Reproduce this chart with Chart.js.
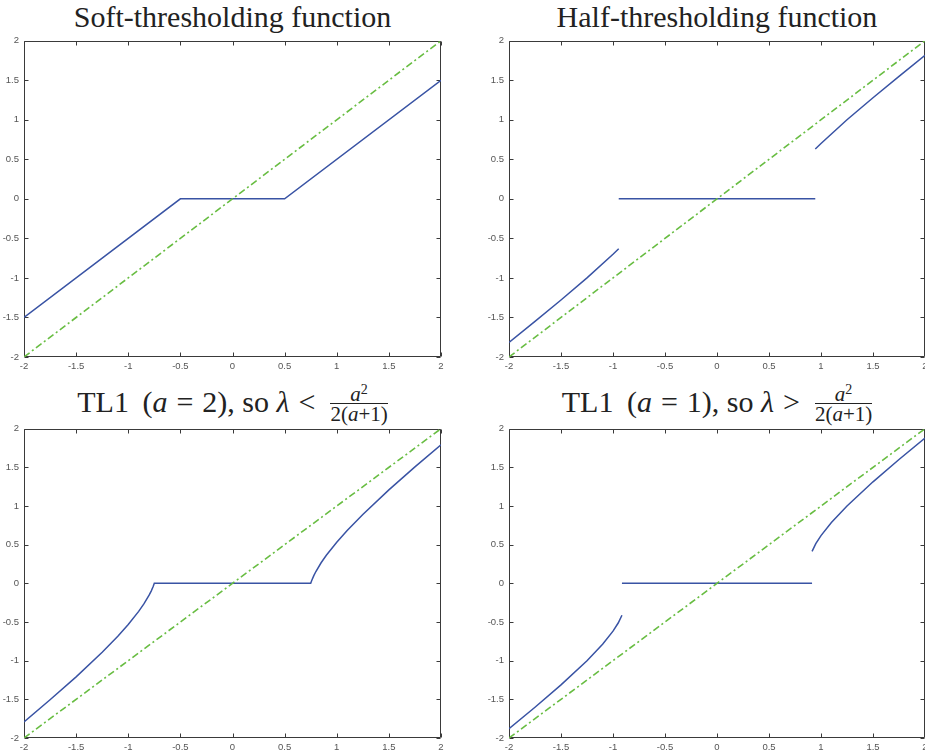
<!DOCTYPE html>
<html>
<head>
<meta charset="utf-8">
<script src="https://cdn.jsdelivr.net/npm/chart.js@4"></script>
<style>
  html, body { margin: 0; padding: 0; background: #fff; }
  body { width: 925px; height: 756px; overflow: hidden; position: relative; }
  canvas { position: absolute; }
  .title {
    position: absolute; text-align: center; color: #222;
    font: 30px 'Liberation Serif', 'DejaVu Serif', serif; line-height: 30px;
    white-space: nowrap;
  }
  .rel { display: inline-block; margin: 0 9px; }
  .frac { display: inline-block; text-align: center; font-size: 21px; vertical-align: -9px; margin-left: 6px; }
  .frac .num { display: block; line-height: 17px; border-bottom: 1px solid #222; padding: 0 2px; }
  .frac .den { display: block; line-height: 20px; }
  .frac sup { font-size: 14px; line-height: 0; vertical-align: 7px; }
</style>
</head>
<body>

<div class="title" style="left:24px; width:417px; top:2px;">Soft-thresholding function</div>
<div class="title" style="left:509px; width:416px; top:2px;">Half-thresholding function</div>
<div class="title" style="left:24px; width:417px; top:386px;">TL1&#8197;&#8201;(<i>a</i><span class="rel">=</span>2), so <i>λ</i><span class="rel">&lt;</span><span class="frac"><span class="num"><i>a</i><sup>2</sup></span><span class="den">2(<i>a</i>+1)</span></span></div>
<div class="title" style="left:509px; width:416px; top:386px;">TL1&#8197;&#8201;(<i>a</i><span class="rel">=</span>1), so <i>λ</i><span class="rel">&gt;</span><span class="frac"><span class="num"><i>a</i><sup>2</sup></span><span class="den">2(<i>a</i>+1)</span></span></div>

<canvas id="softChart" width="460" height="347" style="left:0px; top:30px;"></canvas>
<canvas id="halfChart" width="460" height="347" style="left:485px; top:30px;"></canvas>
<canvas id="tl1aChart" width="460" height="340" style="left:0px; top:418px;"></canvas>
<canvas id="tl1bChart" width="460" height="340" style="left:485px; top:418px;"></canvas>

<script>
// tick values / labels shared by all four axes
var tickValues = [-2, -1.5, -1, -0.5, 0, 0.5, 1, 1.5, 2];
var tickLabels = ['-2', '-1.5', '-1', '-0.5', '0', '0.5', '1', '1.5', '2'];

// identity line y = x (green dash-dot)
var idX = [-2, 2];
var idY = [-2, 2];

// soft thresholding
var softX = [-2, -0.5, 0.5, 2];
var softY = [-1.5, 0, 0, 1.5];

// half thresholding (null = gap)
var halfX = [-2, -1.75, -1.5, -1.25, -1, -0.945, -0.945, -0.945, 0.945, 0.945, 0.945, 1, 1.25, 1.5, 1.75, 2];
var halfY = [-1.815, -1.549, -1.279, -1.0, -0.70, -0.63, null, 0, 0, null, 0.63, 0.70, 1.0, 1.279, 1.549, 1.815];

// TL1, a = 2
var tl1aX = [-2, -1.75, -1.5, -1.25, -1.1, -1, -0.9, -0.85, -0.8, -0.78, -0.76, -0.75, 0.75, 0.76, 0.78, 0.8, 0.85, 0.9, 1, 1.1, 1.25, 1.5, 1.75, 2];
var tl1aY = [-1.792, -1.506, -1.209, -0.891, -0.683, -0.532, -0.363, -0.266, -0.153, -0.100, -0.038, 0, 0, 0.038, 0.100, 0.153, 0.266, 0.363, 0.532, 0.683, 0.891, 1.209, 1.506, 1.792];

// TL1, a = 1
var tl1bX = [-2, -1.75, -1.5, -1.25, -1.1, -1, -0.95, -0.914, -0.914, -0.914, 0.914, 0.914, 0.914, 0.95, 1, 1.1, 1.25, 1.5, 1.75, 2];
var tl1bY = [-1.879, -1.602, -1.313, -1.0, -0.787, -0.618, -0.513, -0.413, null, 0, 0, null, 0.413, 0.513, 0.618, 0.787, 1.0, 1.313, 1.602, 1.879];

var blue = '#3953a4';
var green = '#68bd42';

function toPoints(xs, ys) {
	return xs.map(function(x, i) { return {x: x, y: ys[i]}; });
}

// matlab style box with inward ticks
var boxPlugin = {
	id: 'box',
	beforeDatasetsDraw: function(chart) {
		var ctx = chart.ctx;
		var a = chart.chartArea;
		var xs = chart.scales.x, ys = chart.scales.y;
		var l = Math.round(a.left) + 0.5, r = Math.round(a.right) - 0.5;
		var t = Math.round(a.top) + 0.5, b = Math.round(a.bottom) - 0.5;
		ctx.save();
		ctx.strokeStyle = '#3a3a3a';
		ctx.lineWidth = 1;
		ctx.beginPath();
		ctx.moveTo(l, t); ctx.lineTo(r, t); ctx.lineTo(r, b); ctx.lineTo(l, b); ctx.closePath();
		xs.ticks.forEach(function(tk) {
			var px = Math.round(xs.getPixelForValue(tk.value)) + 0.5;
			ctx.moveTo(px, b); ctx.lineTo(px, b - 4);
			ctx.moveTo(px, t); ctx.lineTo(px, t + 4);
		});
		ys.ticks.forEach(function(tk) {
			var py = Math.round(ys.getPixelForValue(tk.value)) + 0.5;
			ctx.moveTo(l, py); ctx.lineTo(l + 4, py);
			ctx.moveTo(r, py); ctx.lineTo(r - 4, py);
		});
		ctx.stroke();
		ctx.restore();
	}
};

function makeChart(id, curveX, curveY, padRight) {
	var tickFont = {family: "'Liberation Sans', Arial, sans-serif", size: 9.5};
	return new Chart(document.getElementById(id), {
		type: 'scatter',
		data: {
			datasets: [
				{
					data: toPoints(idX, idY),
					showLine: true,
					borderColor: green,
					borderWidth: 1.6,
					borderDash: [7, 3, 2, 3],
					pointRadius: 0
				},
				{
					data: toPoints(curveX, curveY),
					showLine: true,
					borderColor: blue,
					borderWidth: 1.5,
					pointRadius: 0,
					spanGaps: false,
					tension: 0
				}
			]
		},
		options: {
			responsive: false,
			animation: false,
			layout: {padding: {top: 10, right: padRight, bottom: 0, left: 0}},
			plugins: {legend: {display: false}, tooltip: {enabled: false}},
			scales: {
				x: {
					min: -2, max: 2,
					grid: {display: false, drawTicks: false},
					border: {display: false},
					afterBuildTicks: function(s) { s.ticks = tickValues.map(function(v) { return {value: v}; }); },
					afterFit: function(s) { s.height = 20; },
					ticks: {
						color: '#555', font: tickFont, padding: 4, maxRotation: 0, autoSkip: false,
						callback: function(v) { return tickLabels[tickValues.indexOf(v)]; }
					}
				},
				y: {
					min: -2, max: 2,
					grid: {display: false, drawTicks: false},
					border: {display: false},
					afterBuildTicks: function(s) { s.ticks = tickValues.map(function(v) { return {value: v}; }); },
					afterFit: function(s) { s.width = 24; },
					ticks: {
						color: '#555', font: tickFont, padding: 5, autoSkip: false,
						callback: function(v) { return tickLabels[tickValues.indexOf(v)]; }
					}
				}
			}
		},
		plugins: [boxPlugin]
	});
}

makeChart('softChart', softX, softY, 19);
makeChart('halfChart', halfX, halfY, 20);
makeChart('tl1aChart', tl1aX, tl1aY, 19);
makeChart('tl1bChart', tl1bX, tl1bY, 20);
</script>
</body>
</html>
